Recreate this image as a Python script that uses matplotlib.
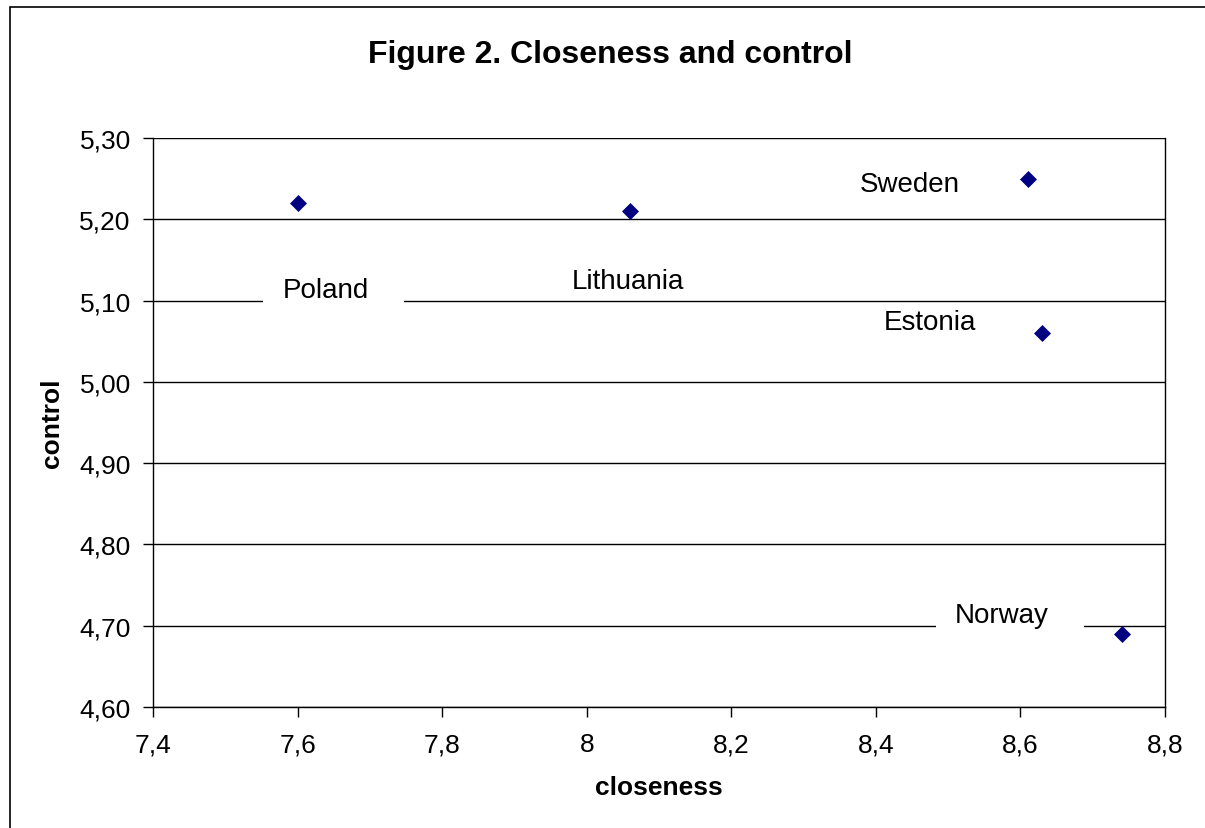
import matplotlib.pyplot as plt
from matplotlib.path import Path
from matplotlib.patches import Rectangle
from matplotlib.ticker import FuncFormatter, MultipleLocator

plt.rcParams['font.family'] = ['Liberation Sans', 'DejaVu Sans']

countries = ["Poland", "Lithuania", "Sweden", "Estonia", "Norway"]
closeness = [7.60, 8.06, 8.61, 8.63, 8.74]
control = [5.22, 5.21, 5.25, 5.06, 4.69]
# label offsets from each point, in points (text left / baseline)
label_dx = [-10.8, -41.8, -121.0, -113.8, -120.0]
label_dy = [-67.7, -55.4, -9.0, 2.6, 8.4]


def label_box(x0, y0, width, height, mutation_size):
    # wide box to the sides, tight above/below (like the Excel labels)
    left = x0 - 0.7 * mutation_size
    right = x0 + width + 1.25 * mutation_size
    bottom = y0 - 0.08 * mutation_size
    top = y0 + height + 0.08 * mutation_size
    return Path([(left, bottom), (right, bottom), (right, top), (left, top), (left, bottom)],
                closed=True)


fig = plt.figure(figsize=(12.05, 8.29), dpi=100)
ax = fig.add_axes([153 / 1205, 1 - 708 / 829, (1165 - 153) / 1205, (708 - 139) / 829])

# chart border (cut off at right and bottom like the screenshot)
fig.patches.append(Rectangle((10 / 1205, -0.1), 1.2, 1 - 8 / 829 + 0.1, transform=fig.transFigure,
                             fill=False, edgecolor='black', linewidth=1.2))

ax.scatter(closeness, control, marker='D', s=75, color='#000080', zorder=4, linewidths=0)

for name, x, y, dx, dy in zip(countries, closeness, control, label_dx, label_dy):
    ax.annotate(name, (x, y), xytext=(dx, dy), textcoords='offset points',
                ha='left', va='baseline', fontsize=20, zorder=3,
                bbox=dict(boxstyle=label_box, fc='white', ec='none'))

ax.set_xlim(7.4, 8.8)
ax.set_ylim(4.6, 5.3)
ax.xaxis.set_major_locator(MultipleLocator(0.2))
ax.yaxis.set_major_locator(MultipleLocator(0.1))
ax.xaxis.set_major_formatter(FuncFormatter(lambda v, p: ('%g' % round(v, 1)).replace('.', ',')))
ax.yaxis.set_major_formatter(FuncFormatter(lambda v, p: ('%.2f' % v).replace('.', ',')))
ax.yaxis.grid(True, color='black', linewidth=1)
ax.set_axisbelow(True)
ax.tick_params(direction='out', length=7, width=1, labelsize=19, color='black')
ax.tick_params(axis='y', pad=9)
ax.tick_params(axis='x', pad=11)
for s in ax.spines.values():
    s.set_color('black')
    s.set_linewidth(1)
ax.spines['top'].set_visible(False)

ax.set_xlabel('closeness', fontsize=19, fontweight='bold', labelpad=14)
ax.set_ylabel('control', fontsize=19, fontweight='bold', labelpad=11)

fig.text(610 / 1205, 1 - 63 / 829, 'Figure 2. Closeness and control', ha='center', va='baseline',
         fontsize=23, fontweight='bold')

fig.savefig('out.png', dpi=100)
